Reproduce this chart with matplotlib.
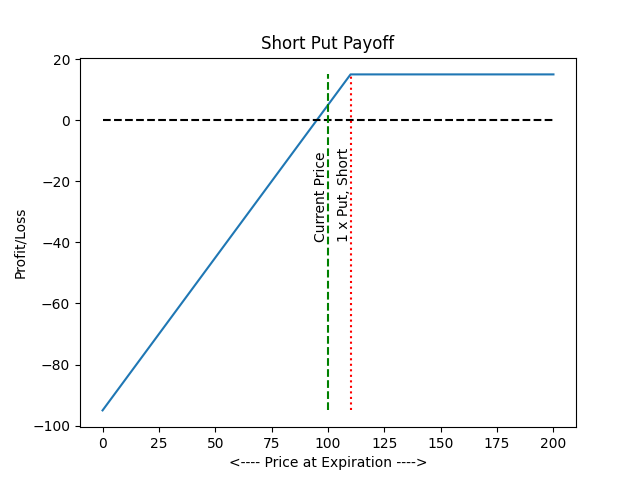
import matplotlib
matplotlib.use("Agg")
import matplotlib.pyplot as plt

# payoff kink points (short put, strike 110, premium 15)
prices = [0, 110, 200]
payoff = [-95, 15, 15]
zero_x = [0, 200]
zero_y = [0, 0]
current_price = 100
strike = 110
vline_range = [-95, 15]

fig, ax = plt.subplots(figsize=(6.4, 4.8), dpi=100)
ax.plot(prices, payoff)
ax.plot(zero_x, zero_y, "k--")
ax.plot([current_price, current_price], vline_range, "g--")
ax.plot([strike, strike], vline_range, "r:")
ax.text(current_price, -40, "Current Price", rotation=90, ha="right", va="bottom")
ax.text(strike, -40, "1 x Put, Short", rotation=90, ha="right", va="bottom")
ax.set_title("Short Put Payoff")
ax.set_xlabel("<---- Price at Expiration ---->")
ax.set_ylabel("Profit/Loss")
fig.savefig("out.png")
